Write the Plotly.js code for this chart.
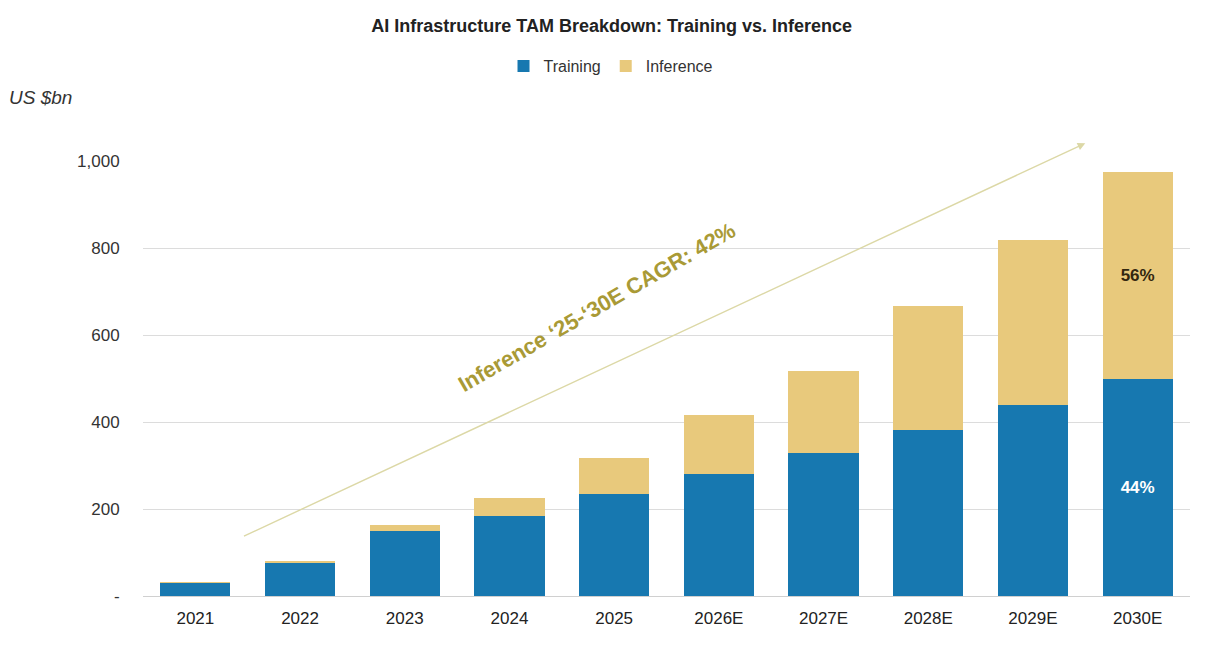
<!DOCTYPE html>
<html>
<head>
<meta charset="utf-8">
<script src="https://cdn.plot.ly/plotly-3.0.1.min.js"></script>
<style>
  html, body { margin: 0; padding: 0; background: #ffffff; }
  #chart { width: 1216px; height: 670px; }
</style>
</head>
<body>
<div id="chart"></div>
<script>
// AI infrastructure total addressable market, US $bn
const years = ['2021', '2022', '2023', '2024', '2025', '2026E', '2027E', '2028E', '2029E', '2030E'];
const training = [29, 75, 150, 184, 234, 280, 328, 382, 439, 500];
const inference = [4, 6, 13, 41, 83, 135, 189, 285, 379, 475];
const trainingLabels = ['', '', '', '', '', '', '', '', '', '44%'];
const inferenceLabels = ['', '', '', '', '', '', '', '', '', '56%'];

const yTickVals = [0, 200, 400, 600, 800, 1000];
const yTickText = ['-', '200', '400', '600', '800', '1,000'];

const cagrText = 'Inference \u201825-\u201830E CAGR: 42%';

const FONT = 'Liberation Sans, Arial, sans-serif';

const traces = [
  {
    type: 'bar',
    name: 'Training',
    x: years,
    y: training,
    marker: { color: '#1778b0' },
    text: trainingLabels,
    textposition: 'inside',
    insidetextanchor: 'middle',
    textangle: 0,
    textfont: { family: FONT, size: 17, color: '#ffffff', weight: 'bold' },
    hoverinfo: 'x+y+name'
  },
  {
    type: 'bar',
    name: 'Inference',
    x: years,
    y: inference,
    marker: { color: '#e8c97c' },
    text: inferenceLabels,
    textposition: 'inside',
    insidetextanchor: 'middle',
    textangle: 0,
    textfont: { family: FONT, size: 17, color: '#33270f', weight: 'bold' },
    hoverinfo: 'x+y+name'
  }
];

const layout = {
  width: 1216,
  height: 670,
  margin: { l: 143, r: 26, t: 161, b: 74, autoexpand: false },
  paper_bgcolor: '#ffffff',
  plot_bgcolor: '#ffffff',
  barmode: 'stack',
  bargap: 0.33,
  font: { family: FONT, size: 17, color: '#333333' },
  title: {
    text: '<b>AI Infrastructure TAM Breakdown: Training vs. Inference</b>',
    font: { family: FONT, size: 18, color: '#222222' },
    x: 0.503,
    xref: 'container',
    xanchor: 'center',
    y: 0.961,
    yref: 'container',
    yanchor: 'middle'
  },
  showlegend: true,
  legend: {
    orientation: 'h',
    xref: 'paper',
    x: 0.447,
    xanchor: 'center',
    y: 1.218,
    yanchor: 'middle',
    font: { family: FONT, size: 16, color: '#333333' },
    itemwidth: 30,
    traceorder: 'normal'
  },
  xaxis: {
    type: 'category',
    automargin: false,
    showgrid: false,
    showline: false,
    ticks: 'outside',
    ticklen: 7,
    tickcolor: 'rgba(0,0,0,0)',
    tickangle: 0,
    tickfont: { family: FONT, size: 17, color: '#222222' },
    fixedrange: true
  },
  yaxis: {
    automargin: false,
    range: [0, 1000],
    tickvals: yTickVals,
    ticktext: yTickText,
    showgrid: true,
    gridcolor: '#dcdcdc',
    gridwidth: 1,
    zeroline: true,
    zerolinecolor: '#d0d0d0',
    zerolinewidth: 1,
    showline: false,
    ticks: 'outside',
    ticklen: 19,
    tickcolor: 'rgba(0,0,0,0)',
    tickfont: { family: FONT, size: 17, color: '#333333' },
    fixedrange: true
  },
  annotations: [
    {
      // growth arrow across the chart
      xref: 'x', yref: 'y', axref: 'x', ayref: 'y',
      x: 8.5, y: 1041,
      ax: 0.45, ay: 136,
      text: '',
      showarrow: true,
      arrowhead: 2,
      arrowsize: 1.1,
      arrowwidth: 1.4,
      arrowcolor: '#dcd8a6'
    },
    {
      xref: 'x', yref: 'y',
      x: 3.83, y: 664,
      text: '<b>' + cagrText + '</b>',
      showarrow: false,
      textangle: -30,
      font: { family: FONT, size: 22, color: '#a99a36' }
    },
    {
      xref: 'paper', yref: 'paper',
      x: -0.13, y: 1.147,
      xanchor: 'left', yanchor: 'middle',
      text: '<i>US $bn</i>',
      showarrow: false,
      font: { family: FONT, size: 19, color: '#333333' }
    }
  ]
};

Plotly.newPlot('chart', traces, layout, { displayModeBar: false, staticPlot: true });
</script>
</body>
</html>
